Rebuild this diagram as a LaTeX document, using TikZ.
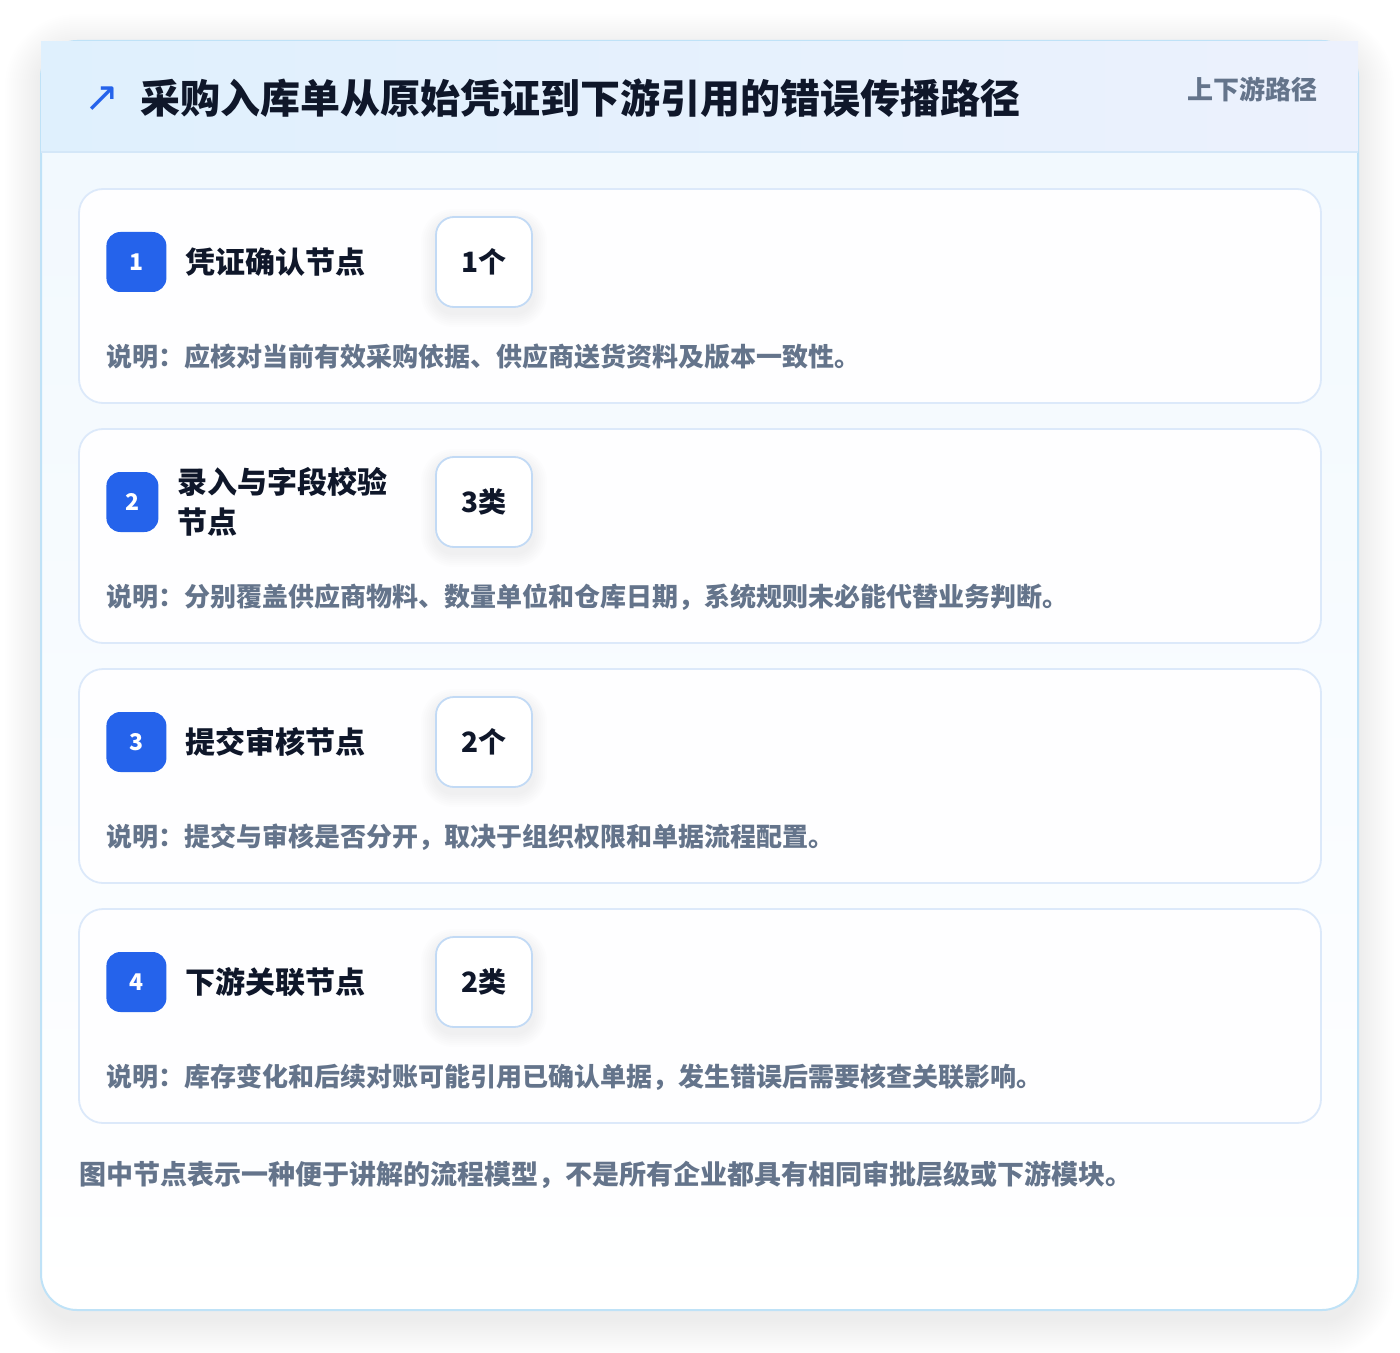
\documentclass[tikz,border=0pt]{standalone}
\usepackage{fontspec}
\setmainfont{Noto Sans CJK SC}
\newfontfamily\symfont{DejaVu Sans}
\usetikzlibrary{positioning}

\definecolor{panelline}{HTML}{BFE2F7}
\definecolor{headleft}{HTML}{DFF0FD}
\definecolor{headright}{HTML}{ECF1FD}
\definecolor{headline}{HTML}{D4E7F8}
\definecolor{cardline}{HTML}{DCE9FA}
\definecolor{valline}{HTML}{C2DAF5}
\definecolor{badgeblue}{HTML}{2563EB}
\definecolor{inkdark}{HTML}{0F172A}
\definecolor{inkgray}{HTML}{64748B}

\tikzset{
  panel/.style={draw=panelline, line width=1pt, rounded corners=18pt,
    top color=headleft!45, bottom color=white},
  card/.style={draw=cardline, line width=0.9pt, fill=white!96!headleft,
    rounded corners=12pt, minimum width=621pt, minimum height=107pt},
  badge/.style={fill=badgeblue, text=white, rounded corners=7pt,
    minimum height=30pt, inner sep=0pt, font=\bfseries\fontsize{11.5}{13}\selectfont},
  cardtitle/.style={inner sep=0pt, align=left, text=inkdark,
    font=\bfseries\fontsize{15}{20}\selectfont},
  valbox/.style={draw=valline, line width=0.9pt, fill=white, rounded corners=9pt,
    minimum width=48pt, minimum height=45pt, text=inkdark,
    font=\bfseries\fontsize{14}{16}\selectfont},
  note/.style={inner sep=0pt, anchor=west, text=inkgray,
    font=\bfseries\fontsize{13}{15}\selectfont}
}

\begin{document}
\begin{tikzpicture}[x=0.5pt, y=-0.5pt]

    \useasboundingbox[fill=white] (0,0) rectangle (1400,1352);

    % soft shadow of the panel
    \foreach \s in {2,4,...,36}
      \fill[black, opacity=0.005, rounded corners=18pt+0.5*\s pt]
        (41-\s,50-\s) rectangle (1358+\s,1320+\s);

    % outer panel and header band
    \node[panel, minimum width=658.5pt, minimum height=634.5pt] (panel) at (699.5,675.5) {};
    \shade[left color=headleft, right color=headright] (41,42) rectangle (1358,152);
    \draw[headline, line width=1pt] (41,152) -- (1358,152);

    \node[inner sep=0pt, text=badgeblue, font=\symfont\fontsize{21}{21}\selectfont] (icon) at (102,99) {↗};
    \node[inner sep=0pt, anchor=west, text=inkdark, font=\bfseries\fontsize{20}{24}\selectfont]
      (title) at (140,98) {采购入库单从原始凭证到下游引用的错误传播路径};
    \node[inner sep=0pt, anchor=east, text=inkgray, font=\bfseries\fontsize{13}{15}\selectfont]
      (tag) at (1318,89) {上下游路径};

    % the four step cards
    \foreach \ttl/\val/\desc/\bw [count=\k] in {
      {凭证确认节点}/{1个}/{应核对当前有效采购依据、供应商送货资料及版本一致性。}/30,
      {录入与字段校验\\节点}/{3类}/{分别覆盖供应商物料、数量单位和仓库日期，系统规则未必能代替业务判断。}/26,
      {提交审核节点}/{2个}/{提交与审核是否分开，取决于组织权限和单据流程配置。}/30,
      {下游关联节点}/{2类}/{库存变化和后续对账可能引用已确认单据，发生错误后需要核查关联影响。}/30}
    {
      \pgfmathsetmacro\cardtop{189+240*(\k-1)}
      \node[card] (card\k) at (700,\cardtop+107) {};
      \node[badge, minimum width=\bw pt, anchor=west] (badge\k) at (106,\cardtop+73) {\k};
      \node[cardtitle, right=9pt of badge\k] (name\k) {\ttl};
      \foreach \s in {2,4,...,14}
        \fill[black, opacity=0.006, rounded corners=9pt+0.5*\s pt]
          (435-\s,\cardtop+34-\s) rectangle (533+\s,\cardtop+124+\s);
      \node[valbox] (val\k) at (484,\cardtop+73) {\val};
      \node[note] (desc\k) at (106,\cardtop+168) {说明：\desc};
    }

    \node[note, font=\bfseries\fontsize{13.5}{15}\selectfont] (foot) at (79,1175)
      {图中节点表示一种便于讲解的流程模型，不是所有企业都具有相同审批层级或下游模块。};

\end{tikzpicture}
\end{document}
